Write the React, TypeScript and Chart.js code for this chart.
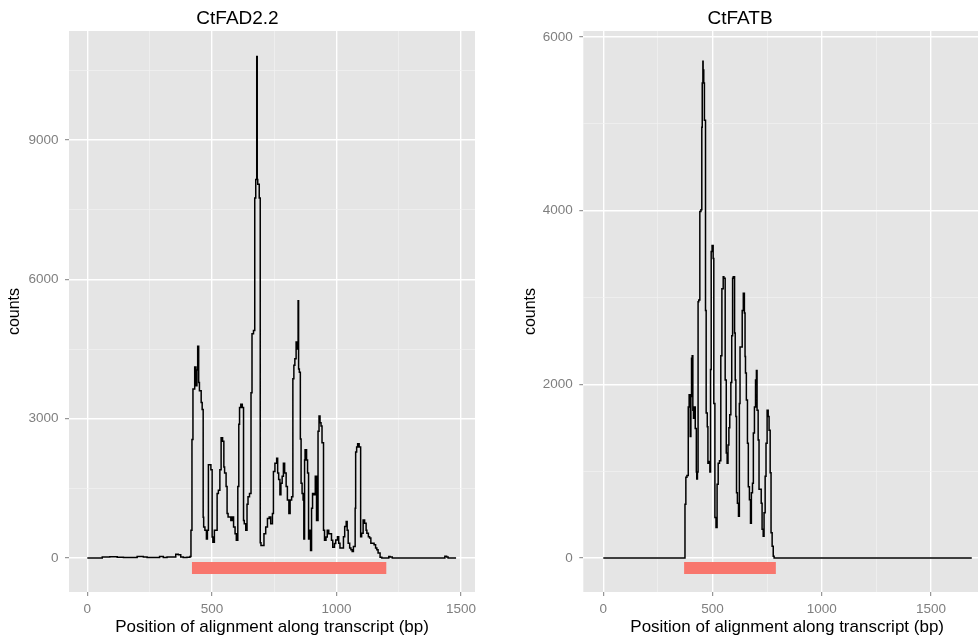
import React, { useEffect, useRef } from "react";
import { Chart, registerables } from "chart.js";

Chart.register(...registerables);

// ---------- data ----------
const fad22Pos = [
  0, 60, 90, 120, 145, 200, 225, 240, 290, 305, 320, 355, 365, 375, 385, 400, 412, 416,
  420, 424, 431, 436, 440, 443, 447, 450, 457, 461, 465, 467, 472, 478, 482, 486, 489, 496,
  501, 504, 510, 515, 521, 526, 532, 537, 543, 548, 551, 557, 561, 565, 576, 582, 587, 593,
  598, 604, 608, 611, 616, 622, 627, 630, 636, 641, 645, 651, 657, 661, 667, 672, 676, 680,
  682, 684, 690, 694, 697, 703, 709, 716, 723, 730, 736, 743, 747, 753, 760, 764, 768, 773,
  777, 782, 787, 792, 798, 803, 809, 814, 820, 825, 829, 833, 838, 842, 846, 848, 851, 855,
  858, 862, 866, 869, 872, 874, 880, 884, 888, 892, 896, 900, 904, 910, 915, 920, 926, 930,
  934, 938, 942, 948, 952, 958, 963, 969, 974, 980, 985, 992, 997, 1004, 1009, 1014, 1020,
  1028, 1033, 1039, 1043, 1047, 1053, 1058, 1063, 1068, 1075, 1077, 1081, 1085, 1091, 1097,
  1101, 1107, 1113, 1119, 1122, 1128, 1133, 1138, 1145, 1151, 1157, 1162, 1167, 1175, 1182,
  1191, 1210, 1215, 1224, 1230, 1435, 1442, 1448, 1455, 1480,
];
const fad22Counts = [
  0, 0, 20, 25, 15, 10, 30, 20, 10, 30, 10, 20, 80, 70, 20, 10, 15, 30,
  595, 2550, 3640, 4110, 3710, 4050, 4560, 3780, 3600, 3350, 3200, 880, 665, 600, 410, 595, 2010, 2010,
  1900, 450, 340, 595, 595, 1390, 1460, 1900, 2590, 2515, 1960, 1830, 1540, 960, 885, 810, 885, 665,
  520, 380, 1540, 2880, 3240, 3310, 3240, 810, 740, 595, 1160, 1320, 1390, 3560, 4830, 4900, 7750, 8150,
  10800, 8150, 8050, 7750, 330, 270, 270, 520, 665, 850, 885, 740, 960, 1860, 2040, 2150, 1830, 1690,
  1360, 1610, 1760, 2040, 1830, 1540, 1250, 960, 1250, 1320, 3860, 4150, 4290, 4650, 4500, 5540, 4070, 4000,
  2560, 1610, 1390, 1250, 410, 2110, 2330, 2110, 1830, 410, 595, 160, 1070, 1390, 1360, 1760, 810, 2730,
  3060, 2910, 2840, 2480, 595, 380, 450, 595, 520, 520, 380, 230, 310, 390, 460, 320, 215,
  215, 460, 680, 785, 600, 320, 215, 180, 140, 250, 1070, 2280, 2390, 2460, 2390,
  460, 535, 820, 750, 600, 535, 460, 430, 320, 320, 285, 215, 180, 107, 14,
  0, 0, 30, 20, 0, 0, 40, 20, 0, 0,
];

const fatbPos = [
  0, 374, 378, 383, 389, 393, 398, 401, 404, 407, 410, 413, 416, 421, 426, 428, 431, 434,
  437, 442, 447, 451, 453, 456, 457, 460, 463, 468, 471, 476, 479, 483, 488, 491, 494, 498,
  503, 506, 511, 516, 521, 526, 532, 538, 543, 549, 552, 558, 563, 567, 571, 575, 579, 584,
  588, 592, 595, 601, 604, 607, 610, 614, 619, 623, 626, 631, 636, 641, 646, 649, 651, 655,
  660, 664, 669, 674, 678, 683, 687, 692, 697, 701, 704, 709, 713, 718, 723, 727, 732, 736,
  741, 745, 750, 755, 759, 764, 768, 773, 778, 782, 787, 1687,
];
const fatbCounts = [
  0, 0, 620, 930, 950, 1740, 1880, 1400, 1860, 2300, 2330, 1700, 1610, 1740, 1490, 990, 910, 990,
  2950, 2970, 3990, 4010, 4960, 5470, 5720, 5620, 5470, 5040, 2850, 1670, 1510, 1090, 1110, 990, 2170, 3530,
  3600, 3450, 1780, 465, 350, 850, 1090, 1120, 2330, 3100, 3240, 3220, 2050, 1210, 1090, 1300, 1500, 1650,
  2020, 2560, 3220, 3240, 2590, 2050, 1630, 750, 630, 480, 1780, 2430, 2430, 2850, 3050, 2820, 2320, 2130,
  1820, 1320, 820, 670, 400, 750, 860, 1440, 1740, 2050, 2160, 1700, 1360, 790, 790, 630, 330, 250,
  520, 940, 1320, 1700, 1630, 1470, 980, 290, 135, 20, 0, 0,
];

// coding region bars (start, end)
const fad22Cds = [420, 1200];
const fatbCds = [370, 790];

// axis breaks
const fad22XMajor = [0, 500, 1000, 1500];
const fad22XMinor = [250, 750, 1250];
const fad22YMajor = [0, 3000, 6000, 9000];
const fad22YMinor = [1500, 4500, 7500, 10500];
const fatbXMajor = [0, 500, 1000, 1500];
const fatbXMinor = [250, 750, 1250, 1750];
const fatbYMajor = [0, 2000, 4000, 6000];
const fatbYMinor = [1000, 3000, 5000];

const titles = ["CtFAD2.2", "CtFATB"];
const xTitle = "Position of alignment along transcript (bp)";
const yTitle = "counts";

const FONT = "'Liberation Sans', Arial, sans-serif";

const bgPlugin = {
  id: "panelBg",
  beforeDraw(chart: any) {
    const { ctx, chartArea } = chart;
    ctx.save();
    ctx.fillStyle = "#E5E5E5";
    ctx.fillRect(chartArea.left, chartArea.top, chartArea.right - chartArea.left, chartArea.bottom - chartArea.top);
    ctx.restore();
  },
};

function scaleOpts(
  major: number[],
  minor: number[],
  min: number,
  max: number,
  isX: boolean,
  fitSize: number,
  titlePad: number
) {
  const majorSet = new Set(major);
  const all = [...major, ...minor].sort((a, b) => a - b);
  const isMajor = (ctx: any) => ctx && ctx.tick && majorSet.has(ctx.tick.value);
  return {
    type: "linear",
    min,
    max,
    afterBuildTicks: (s: any) => {
      s.ticks = all.map((v) => ({ value: v }));
    },
    afterFit: (s: any) => {
      if (isX) s.height = fitSize;
      else s.width = fitSize;
    },
    border: { display: false },
    grid: {
      color: (ctx: any) => (isMajor(ctx) ? "#FFFFFF" : "#F2F2F2"),
      lineWidth: (ctx: any) => (isMajor(ctx) ? 1.4 : 0.7),
      tickColor: (ctx: any) => (isMajor(ctx) ? "#7F7F7F" : "rgba(0,0,0,0)"),
      tickWidth: (ctx: any) => (isMajor(ctx) ? 1 : 0),
      tickLength: 4,
      drawTicks: true,
    },
    ticks: {
      autoSkip: false,
      maxRotation: 0,
      minRotation: 0,
      padding: isX ? 5 : 6.5,
      color: "#7F7F7F",
      font: { family: FONT, size: 13.5 },
      callback: (v: any) => (majorSet.has(v) ? String(v) : ""),
    },
    title: {
      display: true,
      text: isX ? xTitle : yTitle,
      color: "#000000",
      font: { family: FONT, size: isX ? 17 : 16 },
      padding: isX ? { top: 0, bottom: 0 } : { top: titlePad, bottom: 0 },
    },
  };
}

function makeConfig(p: any) {
  return {
    type: "line",
    data: {
      datasets: [
        {
          data: p.pos.map((x: number, i: number) => ({ x, y: p.counts[i] })),
          borderColor: "#000000",
          borderWidth: 1.5,
          pointRadius: 0,
          fill: false,
          tension: 0,
          stepped: "after",
        },
        {
          data: p.cds.map((x: number) => ({ x, y: p.cdsY })),
          borderColor: "#F8766D",
          borderWidth: 12,
          borderCapStyle: "butt",
          pointRadius: 0,
          fill: false,
        },
      ],
    },
    options: {
      responsive: false,
      animation: false,
      events: [],
      layout: { padding: { top: 0, left: 0, bottom: 0, right: p.padRight } },
      plugins: {
        legend: { display: false },
        tooltip: { enabled: false },
        title: {
          display: true,
          text: p.title,
          color: "#000000",
          font: { family: FONT, size: 19, weight: "normal" },
          padding: { top: 7.6, bottom: 0.6 },
        },
      },
      scales: {
        x: scaleOpts(p.xMajor, p.xMinor, p.xMin, p.xMax, true, 46, 0),
        y: scaleOpts(p.yMajor, p.yMinor, p.yMin, p.yMax, false, p.yWidth, p.yTitlePad),
      },
    },
    plugins: [bgPlugin],
  };
}

const panels = [
  {
    title: titles[0],
    pos: fad22Pos,
    counts: fad22Counts,
    cds: fad22Cds,
    cdsY: -215,
    xMajor: fad22XMajor,
    xMinor: fad22XMinor,
    yMajor: fad22YMajor,
    yMinor: fad22YMinor,
    xMin: -73.5,
    xMax: 1556,
    yMin: -732,
    yMax: 11347,
    yWidth: 69,
    yTitlePad: 5.4,
    left: 0,
    width: 489,
    padRight: 14,
  },
  {
    title: titles[1],
    pos: fatbPos,
    counts: fatbCounts,
    cds: fatbCds,
    cdsY: -115,
    xMajor: fatbXMajor,
    xMinor: fatbXMinor,
    yMajor: fatbYMajor,
    yMinor: fatbYMinor,
    xMin: -91.5,
    xMax: 1775,
    yMin: -392,
    yMax: 6069,
    yWidth: 94.3,
    yTitlePad: 32.4,
    left: 489,
    width: 516,
    padRight: 14,
  },
];

function Panel({ p }: { p: any }) {
  const ref = useRef<HTMLCanvasElement | null>(null);
  useEffect(() => {
    if (!ref.current) return;
    const chart = new Chart(ref.current, makeConfig(p) as any);
    return () => chart.destroy();
  }, []);
  return (
    <canvas
      ref={ref}
      width={p.width}
      height={638}
      style={{ position: "absolute", left: p.left, top: 0, width: p.width, height: 638 }}
    />
  );
}

export default function App() {
  return (
    <div
      style={{
        position: "absolute",
        left: 0,
        top: 0,
        width: 978,
        height: 638,
        overflow: "hidden",
        background: "#FFFFFF",
      }}
    >
      {panels.map((p, i) => (
        <Panel key={i} p={p} />
      ))}
    </div>
  );
}
